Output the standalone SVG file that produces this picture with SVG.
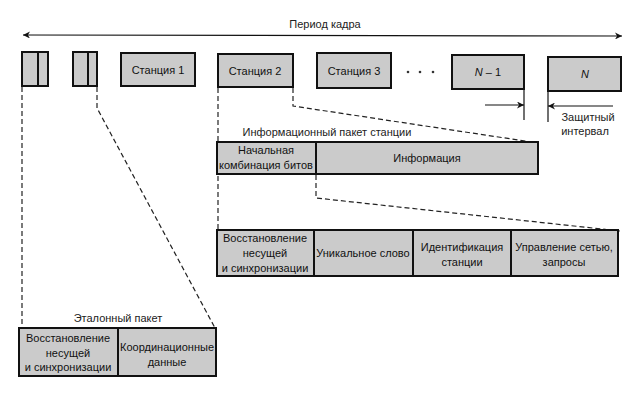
<svg xmlns="http://www.w3.org/2000/svg" width="632" height="407" viewBox="0 0 632 407">
<defs>
<style>
.box{fill:#cbcbcb;stroke:#111;stroke-width:2}
.div{stroke:#111;stroke-width:2;fill:none}
.t{font-family:"Liberation Sans",Arial,sans-serif;font-size:11px;fill:#111;text-anchor:middle}
.tl{font-family:"Liberation Sans",Arial,sans-serif;font-size:11px;fill:#222;text-anchor:middle}
.dash{stroke:#222;stroke-width:1.2;stroke-dasharray:5,3;fill:none}
.ln{stroke:#111;stroke-width:1.2;fill:none}
</style>
<marker id="ah" viewBox="0 0 10 10" refX="10" refY="5" markerWidth="9" markerHeight="7" markerUnits="userSpaceOnUse" orient="auto-start-reverse">
<path d="M0,0 L10,5 L0,10 L3,5 z" fill="#111"/>
</marker>
</defs>
<rect width="632" height="407" fill="#fff"/>

<g id="connectors">
<line class="ln" x1="23" y1="35" x2="622" y2="36" marker-start="url(#ah)" marker-end="url(#ah)"/>
<path class="dash" d="M22,87 V328"/>
<path class="dash" d="M97,87 V108 L215,328"/>
<path class="dash" d="M218,88 V230"/>
<path class="dash" d="M293,88 V106 L538,143"/>
<path class="dash" d="M316,175 V198 L620,231"/>
<line class="ln" x1="524" y1="89" x2="524" y2="120"/>
<line class="ln" x1="485" y1="105" x2="524" y2="105" marker-end="url(#ah)"/>
<line class="ln" x1="548" y1="91" x2="548" y2="122"/>
<line class="ln" x1="613" y1="106" x2="548" y2="106" marker-end="url(#ah)"/>
</g>

<text class="tl" x="325" y="28">Период кадра</text>

<g id="refA">
<rect class="box" x="22" y="52" width="26" height="34"/>
<line class="div" x1="38" y1="52" x2="38" y2="86"/>
</g>
<g id="refB">
<rect class="box" x="73" y="52" width="24" height="34"/>
<line class="div" x1="88" y1="52" x2="88" y2="86"/>
</g>
<g id="st1">
<rect class="box" x="121" y="53" width="74" height="33"/>
<text class="t" x="158" y="74">Станция 1</text>
</g>
<g id="st2">
<rect class="box" x="218" y="54" width="75" height="33"/>
<text class="t" x="255" y="75">Станция 2</text>
</g>
<g id="st3">
<rect class="box" x="317" y="53" width="74" height="35"/>
<text class="t" x="354" y="75">Станция 3</text>
</g>
<g id="dots" fill="#333">
<circle cx="408" cy="72" r="1.3"/>
<circle cx="420" cy="72" r="1.3"/>
<circle cx="433" cy="72" r="1.3"/>
</g>
<g id="stN1">
<rect class="box" x="452" y="55" width="72" height="34"/>
<text class="t" x="488" y="76"><tspan font-style="italic">N</tspan> – 1</text>
</g>
<g id="stN">
<rect class="box" x="548" y="57" width="73" height="34"/>
<text class="t" x="585" y="78" font-style="italic">N</text>
</g>
<g id="guard">
<text class="tl" x="588" y="121">Защитный</text>
<text class="tl" x="585" y="135">интервал</text>
</g>

<g id="infoPacket">
<text class="tl" x="327" y="136">Информационный пакет станции</text>
<rect class="box" x="217" y="142" width="321" height="32"/>
<line class="div" x1="316" y1="142" x2="316" y2="174"/>
<text class="t" x="266" y="154">Начальная</text>
<text class="t" x="266" y="169">комбинация битов</text>
<text class="t" x="427" y="162">Информация</text>
</g>

<g id="preamble">
<rect class="box" x="217" y="230" width="401" height="46"/>
<line class="div" x1="314" y1="230" x2="314" y2="276"/>
<line class="div" x1="413" y1="230" x2="413" y2="276"/>
<line class="div" x1="511" y1="230" x2="511" y2="276"/>
<text class="t" x="265" y="242">Восстановление</text>
<text class="t" x="265" y="257">несущей</text>
<text class="t" x="265" y="272">и синхронизации</text>
<text class="t" x="363" y="257">Уникальное слово</text>
<text class="t" x="462" y="251">Идентификация</text>
<text class="t" x="462" y="266">станции</text>
<text class="t" x="564" y="251">Управление сетью,</text>
<text class="t" x="564" y="266">запросы</text>
</g>

<g id="refPacket">
<text class="tl" x="118" y="322">Эталонный пакет</text>
<rect class="box" x="19" y="328" width="197" height="48"/>
<line class="div" x1="118" y1="328" x2="118" y2="376"/>
<text class="t" x="68" y="342">Восстановление</text>
<text class="t" x="68" y="357">несущей</text>
<text class="t" x="68" y="371" font-size="10">и синхронизации</text>
<text class="t" x="167" y="351">Координационные</text>
<text class="t" x="167" y="366">данные</text>
</g>
</svg>
